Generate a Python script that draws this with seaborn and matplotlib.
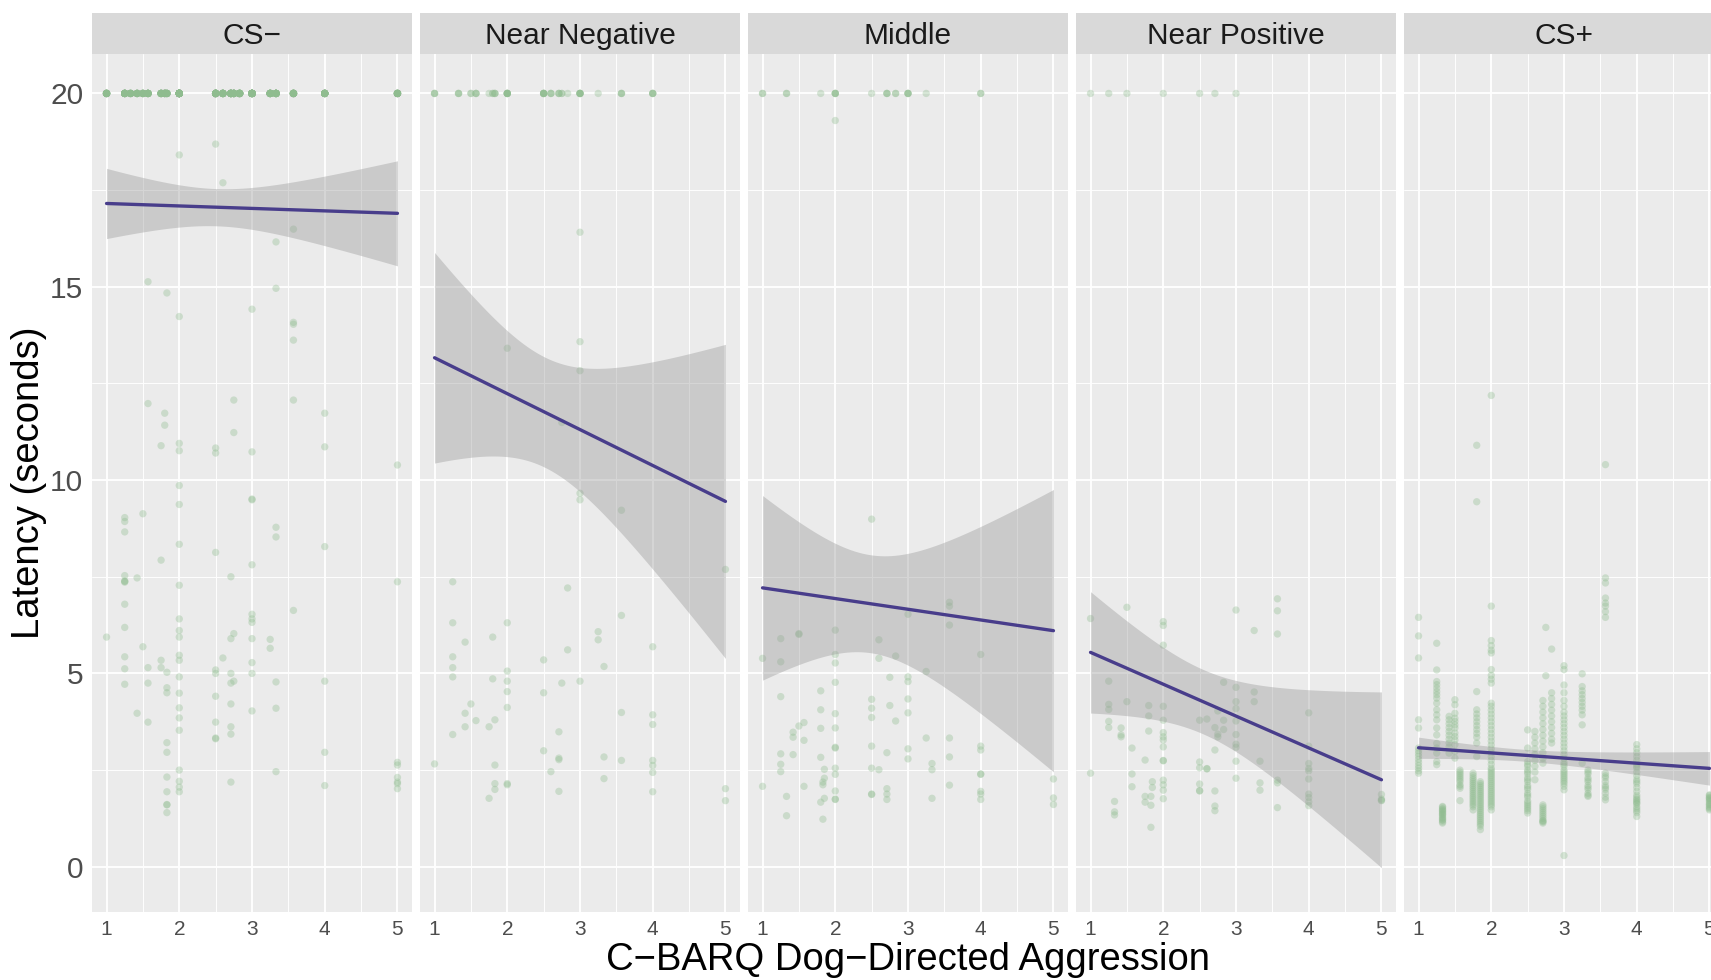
import numpy as np
import pandas as pd
import matplotlib
matplotlib.use("Agg")
import matplotlib.pyplot as plt
from matplotlib.ticker import FixedLocator
import seaborn as sns

# ---------------------------------------------------------------- data
facets = ["CS\u2212", "Near Negative", "Middle", "Near Positive", "CS+"]
x_ticks = [1, 2, 3, 4, 5]
y_ticks = [0, 5, 10, 15, 20]

# CS- : trials that hit the 20 s ceiling (score level, number of trials)
csm_cap_x = [1.0, 1.25, 1.33, 1.42, 1.5, 1.57, 1.75, 1.8, 1.83, 2.0, 2.5,
             2.6, 2.71, 2.75, 2.83, 3.0, 3.25, 3.33, 3.57, 4.0, 5.0]
csm_cap_n = [18, 20, 12, 12, 12, 15, 15, 15, 12, 52, 30,
             20, 25, 20, 20, 35, 20, 20, 20, 22, 16]
csm_x = [2.5, 2.0, 2.6, 3.57, 3.33, 1.57, 1.83, 3.33, 3.0, 2.0, 3.57, 3.57, 3.57, 1.57,
         2.75, 3.57, 1.8, 4.0, 1.8, 2.75, 1.75, 2.0, 2.0, 2.5, 2.5, 3.0, 4.0, 5.0,
         2.0, 2.0, 3.0, 3.0, 1.25, 1.25, 1.5, 1.25, 2.0, 3.33, 3.33, 4.0, 1.75, 2.5,
         3.0, 1.25, 1.25, 1.25, 1.25, 1.42, 2.71, 2.0, 5.0, 1.25, 3.57, 3.0, 3.0, 3.0,
         2.0, 1.25, 1.0, 2.0, 2.0, 2.75, 2.71, 3.0, 3.25, 3.25, 1.5, 1.25, 1.75, 2.0,
         2.0, 2.6, 1.25, 1.57, 1.75, 1.83, 2.5, 2.5, 2.71, 3.0, 3.0, 2.0, 1.25, 1.57,
         1.83, 1.83, 2.71, 2.75, 3.33, 4.0, 2.0, 2.5, 2.71, 2.0, 1.42, 3.0, 3.33, 2.0,
         1.57, 2.5, 2.71, 2.0, 2.71, 2.5, 2.5, 1.83, 1.83, 4.0, 2.0, 3.33, 1.83, 2.0,
         2.71, 2.0, 2.0, 4.0, 5.0, 5.0, 5.0, 5.0, 5.0, 5.0, 1.83, 1.83, 1.83, 1.83]
csm_y = [18.69, 18.41, 17.69, 16.49, 16.16, 15.13, 14.84, 14.96, 14.42, 14.23, 14.08,
         14.03, 13.62, 11.98, 12.07, 12.07, 11.73, 11.73, 11.42, 11.23, 10.89, 10.95,
         10.76, 10.83, 10.70, 10.73, 10.86, 10.39,
         9.86, 9.37, 9.51, 9.49, 9.03, 8.93, 9.13, 8.66, 8.34, 8.78, 8.53, 8.28, 7.93,
         8.13, 7.81, 7.53, 7.39, 7.38, 7.36, 7.47, 7.50, 7.28, 7.37, 6.79, 6.63, 6.53,
         6.41, 6.32, 6.41, 6.19, 5.94, 6.11, 5.94, 6.03, 5.90, 5.90, 5.88, 5.65, 5.69,
         5.43, 5.34, 5.47, 5.34, 5.40, 5.12, 5.15, 5.15, 5.03, 5.09, 5.00, 5.00, 5.28,
         5.00, 4.91, 4.72, 4.75, 4.63, 4.50, 4.75, 4.80, 4.78, 4.80, 4.49, 4.41, 4.21,
         4.11, 3.97, 4.03, 4.10, 3.85, 3.74, 3.74, 3.62, 3.53, 3.43, 3.33, 3.31, 3.21,
         2.96, 2.96, 2.50, 2.46, 2.32, 2.21, 2.19, 2.06, 1.94, 2.10, 2.70, 2.63, 2.31,
         2.19, 2.15, 2.02, 1.94, 1.61, 1.60, 1.40]

# Near Negative
nn_cap_x = [1.0, 1.33, 1.5, 1.57, 1.75, 1.8, 1.83, 2.0, 2.5, 2.6, 2.71, 2.75, 2.83,
            3.0, 3.25, 3.57, 4.0]
nn_cap_n = [3, 3, 2, 3, 1, 2, 3, 7, 6, 3, 3, 2, 1, 6, 1, 3, 4]
nn_x = [3.0, 2.0, 3.0, 3.0, 2.75, 3.0, 3.0, 3.57, 5.0, 1.25, 2.83, 3.57, 1.25, 2.0,
        3.25, 3.25, 1.8, 1.42, 2.83, 4.0, 1.25, 2.5, 3.33, 1.25, 2.0, 1.25, 1.8, 2.0,
        2.75, 3.0, 2.0, 2.5, 1.5, 2.0, 1.42, 3.57, 4.0, 4.0, 1.57, 1.83, 1.42, 1.75,
        1.25, 2.71, 2.5, 2.71, 2.71, 3.33, 3.57, 1.0, 1.83, 4.0, 4.0, 4.0, 2.6, 3.33,
        1.83, 1.83, 2.0, 2.0, 2.71, 4.0, 1.75, 5.0, 5.0]
nn_y = [16.41, 13.41, 13.58, 12.83, 11.49, 9.66, 9.49, 9.22, 7.69, 7.37, 7.21, 6.50,
        6.31, 6.31, 6.08, 5.87, 5.94, 5.81, 5.61, 5.69, 5.43, 5.35, 5.18, 5.15, 5.06,
        4.91, 4.86, 4.80, 4.75, 4.80, 4.53, 4.50, 4.21, 4.12, 3.97, 3.99, 3.93, 3.68,
        3.78, 3.80, 3.62, 3.62, 3.42, 3.49, 3.00, 2.81, 2.77, 2.84, 2.75, 2.66, 2.63,
        2.75, 2.62, 2.44, 2.46, 2.28, 2.15, 2.00, 2.15, 2.12, 1.95, 1.94, 1.77, 2.02,
        1.71]

# Middle
mid_cap_x = [1.0, 1.33, 1.8, 2.0, 2.5, 2.71, 2.83, 3.0, 3.25, 4.0]
mid_cap_n = [2, 2, 1, 4, 1, 3, 2, 4, 1, 2]
mid_x = [2.0, 2.5, 3.57, 3.57, 3.0, 3.57, 1.0, 1.25, 1.25, 1.5, 1.5, 2.0, 2.0, 2.0,
         2.6, 2.6, 2.83, 3.25, 4.0, 2.75, 3.0, 3.0, 2.0, 1.25, 1.8, 1.8, 2.5, 2.5,
         2.5, 2.75, 3.0, 3.0, 2.83, 2.0, 2.0, 1.57, 1.5, 1.42, 1.42, 1.8, 1.57, 1.25,
         1.42, 1.25, 1.25, 1.8, 2.0, 2.0, 2.5, 2.71, 3.0, 3.0, 3.25, 3.57, 3.57, 3.33,
         3.33, 4.0, 4.0, 4.0, 4.0, 1.85, 1.85, 1.83, 1.83, 2.0, 2.0, 2.5, 2.6, 1.0,
         1.57, 1.33, 1.33, 1.8, 1.85, 1.83, 2.0, 2.0, 2.0, 2.5, 2.5, 2.71, 2.71, 2.71,
         3.33, 3.57, 4.0, 4.0, 4.0, 5.0, 5.0, 5.0]
mid_y = [19.30, 8.99, 6.84, 6.74, 6.53, 6.25, 5.39, 5.90, 5.30, 6.03, 6.01, 6.12, 5.49,
         5.27, 5.87, 5.39, 5.45, 5.05, 5.49, 4.90, 4.91, 4.79, 4.77, 4.40, 4.55, 4.06,
         4.33, 4.10, 3.86, 4.17, 4.34, 3.98, 3.77, 3.96, 3.59, 3.73, 3.64, 3.48, 3.35,
         3.58, 3.27, 2.92, 2.90, 2.65, 2.46, 2.83, 3.09, 3.07, 3.12, 2.95, 3.05, 2.79,
         3.33, 3.33, 2.84, 2.67, 2.51, 3.12, 3.02, 2.40, 2.39, 2.52, 2.29, 2.19, 2.12,
         2.55, 2.39, 2.55, 2.51, 2.08, 2.08, 1.82, 1.32, 1.67, 1.77, 1.23, 1.96, 1.75,
         1.74, 1.88, 1.87, 2.02, 1.88, 1.74, 1.77, 2.11, 1.95, 1.88, 1.74, 2.27, 1.78,
         1.61]

# Near Positive
np_cap_x = [1.0, 1.25, 1.5, 2.0, 2.5, 2.71, 3.0]
np_cap_n = [1, 1, 1, 1, 1, 1, 1]
np_x = [1.0, 1.5, 2.0, 2.0, 2.0, 3.0, 3.57, 3.57, 3.57, 3.25, 1.25, 1.25, 1.25, 1.25,
        1.25, 1.5, 1.42, 1.42, 1.42, 1.57, 1.8, 1.8, 1.8, 1.75, 2.0, 2.0, 2.0, 2.0,
        2.0, 2.0, 2.0, 2.0, 2.5, 2.6, 2.75, 2.83, 2.83, 2.83, 2.71, 2.75, 2.75, 2.71,
        3.0, 3.0, 3.0, 3.0, 3.0, 3.0, 3.0, 3.0, 3.0, 3.25, 3.25, 3.33, 3.33, 3.33,
        3.57, 3.57, 3.57, 4.0, 4.0, 4.0, 4.0, 4.0, 4.0, 4.0, 4.0, 4.0, 4.0, 5.0, 5.0,
        5.0, 5.0, 1.0, 1.33, 1.33, 1.33, 1.57, 1.57, 1.75, 1.75, 1.83, 1.83, 1.85,
        1.85, 1.83, 2.0, 2.0, 2.0, 2.0, 2.5, 2.5, 2.6, 2.6, 2.5, 2.5, 2.5, 2.71, 2.71,
        2.71]
np_y = [6.42, 6.71, 6.34, 6.24, 5.73, 6.64, 6.93, 6.62, 6.02, 6.11, 4.80, 4.20, 4.07,
        3.76, 3.60, 4.27, 3.59, 3.41, 3.36, 3.07, 4.17, 3.90, 3.51, 2.76, 4.15, 3.79,
        3.47, 3.36, 3.28, 3.10, 2.75, 2.74, 3.79, 3.82, 4.03, 4.77, 3.79, 3.55, 3.60,
        3.43, 3.36, 3.02, 4.64, 4.27, 4.09, 3.77, 3.42, 3.17, 3.09, 2.73, 2.29, 4.52,
        4.27, 2.73, 2.17, 1.98, 2.24, 2.17, 1.53, 3.98, 3.12, 2.67, 2.54, 2.48, 2.27,
        1.88, 1.79, 1.68, 1.58, 1.87, 1.72, 1.71, 1.75, 2.42, 1.69, 1.42, 1.34, 2.40,
        2.07, 1.82, 1.67, 1.82, 1.59, 2.20, 2.05, 1.02, 2.24, 2.12, 1.98, 1.76, 2.71,
        2.56, 2.54, 2.53, 2.14, 1.97, 1.96, 1.96, 1.57, 1.45]

# CS+ : latencies listed per aggression score level
csp_levels = [1.0, 1.25, 1.33, 1.42, 1.5, 1.57, 1.75, 1.8, 1.85, 2.0, 2.5, 2.6,
              2.71, 2.75, 2.83, 3.0, 3.25, 3.33, 3.57, 4.0, 5.0]
csp_latency = [
    [6.45, 5.97, 5.40, 3.80, 3.59, 3.07, 3.00, 2.93, 2.86, 2.78, 2.70, 2.62, 2.55, 2.48, 2.42],
    [5.78, 5.09, 4.79, 4.71, 4.62, 4.53, 4.45, 4.36, 4.23, 4.06, 3.93, 3.80, 3.59, 3.41,
     3.19, 3.07, 2.94, 2.72, 2.64],
    [1.56, 1.54, 1.50, 1.48, 1.45, 1.43, 1.40, 1.37, 1.35, 1.32, 1.28, 1.25, 1.22, 1.20,
     1.16, 1.13],
    [3.89, 3.80, 3.70, 3.60, 3.50, 3.40, 3.30, 3.20, 3.10, 2.94],
    [4.32, 4.19, 3.97, 3.84, 3.76, 3.67, 3.59, 3.46, 3.37, 3.28, 3.16, 2.98, 2.81],
    [2.50, 2.45, 2.40, 2.35, 2.30, 2.25, 2.20, 2.12, 2.08, 2.03, 1.71],
    [2.42, 2.36, 2.30, 2.25, 2.20, 2.15, 2.10, 2.05, 2.00, 1.95, 1.90, 1.85, 1.80, 1.75,
     1.70, 1.65, 1.60, 1.55, 1.47],
    [10.90, 9.44, 4.53, 4.06, 3.95, 3.85, 3.75, 3.65, 3.55, 3.45, 3.35, 3.20, 2.85],
    [2.20, 2.15, 2.10, 2.05, 2.00, 1.95, 1.90, 1.85, 1.80, 1.75, 1.70, 1.65, 1.60, 1.55,
     1.50, 1.45, 1.40, 1.35, 1.30, 1.25, 1.20, 1.15, 1.10, 1.05, 0.96],
    [12.19, 6.74, 5.85, 5.72, 5.60, 5.53, 5.10, 4.95, 4.85, 4.75, 4.23, 4.15, 4.05, 3.95,
     3.85, 3.75, 3.65, 3.55, 3.45, 3.35, 3.25, 3.15, 3.05, 2.95, 2.85, 2.75, 2.65, 2.55,
     2.50, 2.45, 2.40, 2.35, 2.30, 2.25, 2.20, 2.15, 2.10, 2.05, 2.00, 1.95, 1.90, 1.85,
     1.80, 1.75, 1.70, 1.65, 1.60, 1.55, 1.47],
    [3.54, 3.07, 2.72, 2.65, 2.60, 2.50, 2.45, 2.40, 2.30, 2.25, 2.20, 2.10, 2.05, 2.00,
     1.90, 1.85, 1.80, 1.70, 1.65, 1.60, 1.55, 1.50, 1.45, 1.39],
    [3.50, 3.35, 3.20, 3.05, 2.90, 2.75, 2.60, 2.45, 2.25],
    [4.30, 4.15, 4.00, 3.85, 3.70, 3.55, 3.40, 3.25, 3.10, 2.95, 2.80, 2.68, 1.60, 1.55,
     1.50, 1.45, 1.40, 1.35, 1.30, 1.25, 1.20, 1.18, 1.16, 1.13],
    [6.19, 4.94],
    [5.63, 4.50, 4.35, 4.20, 4.05, 3.90, 3.75, 3.60, 3.45, 3.30, 3.20],
    [5.20, 5.10, 4.70, 4.50, 4.30, 4.15, 4.00, 3.90, 3.80, 3.70, 3.60, 3.50, 3.40, 3.30,
     3.20, 3.10, 3.00, 2.90, 2.80, 2.70, 2.65, 2.60, 2.50, 2.45, 2.40, 2.35, 2.30, 2.25,
     2.20, 2.15, 2.08, 1.99, 0.29],
    [4.99, 4.66, 4.55, 4.45, 4.35, 4.25, 4.15, 4.05, 3.93, 3.67, 2.68],
    [2.50, 2.45, 2.40, 2.30, 2.25, 2.20, 2.10, 2.05, 2.00, 1.90, 1.85, 1.82],
    [10.40, 7.47, 7.34, 6.95, 6.82, 6.74, 6.60, 6.45, 2.42, 2.35, 2.30, 2.20, 2.10, 2.05,
     2.00, 1.90, 1.80, 1.73],
    [3.16, 3.05, 2.95, 2.85, 2.75, 2.65, 2.60, 2.55, 2.45, 2.35, 2.25, 2.20, 2.15, 2.05,
     1.95, 1.85, 1.80, 1.75, 1.72, 1.68, 1.65, 1.62, 1.55, 1.50, 1.45, 1.40, 1.30],
    [1.86, 1.84, 1.80, 1.78, 1.76, 1.73, 1.70, 1.66, 1.62, 1.60, 1.56, 1.53, 1.50, 1.47],
]

# ---------------------------------------------------------------- tidy table
CAP = 20.0


def panel_frame(name, xs, ys, cap_x=(), cap_n=()):
    cx, cy = [], []
    for xv, nv in zip(cap_x, cap_n):
        cx += [xv] * nv
        cy += [CAP] * nv
    return pd.DataFrame({"condition": name, "aggression": list(xs) + cx,
                         "latency": list(ys) + cy})


csp_x, csp_y = [], []
for lvl, vals in zip(csp_levels, csp_latency):
    csp_x += [lvl] * len(vals)
    csp_y += vals

df = pd.concat([
    panel_frame(facets[0], csm_x, csm_y, csm_cap_x, csm_cap_n),
    panel_frame(facets[1], nn_x, nn_y, nn_cap_x, nn_cap_n),
    panel_frame(facets[2], mid_x, mid_y, mid_cap_x, mid_cap_n),
    panel_frame(facets[3], np_x, np_y, np_cap_x, np_cap_n),
    panel_frame(facets[4], csp_x, csp_y),
], ignore_index=True)


def t975(dof):
    z = 1.959964
    return z + (z ** 3 + z) / (4 * dof) + (5 * z ** 5 + 16 * z ** 3 + 3 * z) / (96 * dof ** 2)


def linear_fit(x, y, npts=80):
    """Least-squares line with a 95% confidence band for the mean."""
    x = np.asarray(x, float)
    y = np.asarray(y, float)
    n = len(x)
    xm = x.mean()
    sxx = ((x - xm) ** 2).sum()
    slope = ((x - xm) * (y - y.mean())).sum() / sxx
    icpt = y.mean() - slope * xm
    s2 = ((y - icpt - slope * x) ** 2).sum() / (n - 2)
    grid = np.linspace(x.min(), x.max(), npts)
    pred = icpt + slope * grid
    half = t975(n - 2) * np.sqrt(s2 * (1.0 / n + (grid - xm) ** 2 / sxx))
    return pd.DataFrame({"aggression": grid, "fit": pred,
                         "lo": pred - half, "hi": pred + half})


# ---------------------------------------------------------------- figure
W, H = 1711, 980
sns.set_theme(style="darkgrid")
plt.rcParams["font.family"] = ["Liberation Sans", "DejaVu Sans"]

fig = plt.figure(figsize=(W / 100, H / 100), dpi=100)
fig.patch.set_facecolor("white")

lefts = [92, 420, 748, 1076, 1404]
panel_w = 320
top_px, bottom_px, strip_top_px = 54, 912, 13

for i, name in enumerate(facets):
    ax = fig.add_axes([lefts[i] / W, 1 - bottom_px / H, panel_w / W,
                       (bottom_px - top_px) / H])
    ax.set_facecolor("#EBEBEB")
    ax.set_xlim(0.8, 5.2)
    ax.set_ylim(-1.17, 21.02)
    ax.xaxis.set_major_locator(FixedLocator(x_ticks))
    ax.xaxis.set_minor_locator(FixedLocator([1.5, 2.5, 3.5, 4.5]))
    ax.yaxis.set_major_locator(FixedLocator(y_ticks))
    ax.yaxis.set_minor_locator(FixedLocator([2.5, 7.5, 12.5, 17.5]))
    ax.grid(which="major", color="white", lw=1.3)
    ax.grid(which="minor", color="white", lw=0.65)
    ax.set_axisbelow(True)
    for sp in ax.spines.values():
        sp.set_visible(False)
    ax.tick_params(axis="x", which="major", length=0, pad=6, labelsize=15,
                   labelcolor="#4D4D4D")
    ax.tick_params(axis="both", which="minor", length=0)
    if i == 0:
        ax.tick_params(axis="y", which="major", length=4.3, width=1.1, color="#333333",
                       pad=2, labelsize=21.5, labelcolor="#4D4D4D")
    else:
        ax.tick_params(axis="y", which="major", length=0, labelleft=False)

    sub = df[df["condition"] == name]
    sns.scatterplot(data=sub, x="aggression", y="latency", ax=ax, color="#8FBC8F",
                    alpha=0.35, s=28, edgecolor="none", linewidth=0, legend=False)

    fit = linear_fit(sub["aggression"], sub["latency"])
    ax.fill_between(fit["aggression"], fit["lo"], fit["hi"], color="#999999",
                    alpha=0.4, linewidth=0, zorder=3)
    sns.lineplot(data=fit, x="aggression", y="fit", ax=ax, color="#483D8B",
                 linewidth=2.4, zorder=4)
    ax.set_xlabel("")
    ax.set_ylabel("")

    strip = fig.add_axes([lefts[i] / W, 1 - top_px / H, panel_w / W,
                          (top_px - strip_top_px) / H])
    strip.set_facecolor("#D9D9D9")
    strip.set_xticks([])
    strip.set_yticks([])
    for sp in strip.spines.values():
        sp.set_visible(False)
    strip.text(0.5, 0.45, name, transform=strip.transAxes, ha="center", va="center",
               fontsize=21.5, color="#1A1A1A")

fig.text(29 / W, 1 - 483 / H, "Latency (seconds)", rotation=90, ha="center",
         va="center", fontsize=27.5, color="black")
fig.text(908 / W, 1 - 960 / H, "C\u2212BARQ Dog\u2212Directed Aggression", ha="center",
         va="center", fontsize=27.5, color="black")

fig.savefig("out.png", dpi=100)
